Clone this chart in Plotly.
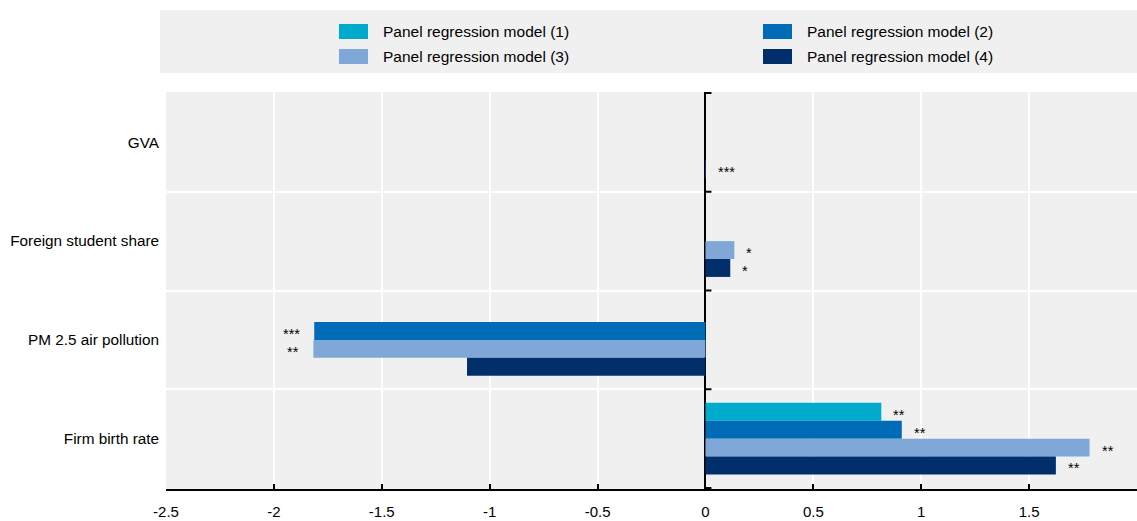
import plotly.graph_objects as go

# Explanatory variables (top to bottom)
categories = ["GVA", "Foreign student share", "PM 2.5 air pollution", "Firm birth rate"]

# Coefficients per model (None = variable not in the model)
model_1 = [None, None, None, 0.815]
model_2 = [None, None, -1.813, 0.91]
model_3 = [None, 0.134, -1.817, 1.78]
model_4 = [0.001, 0.115, -1.105, 1.624]

# Significance markers per model
stars_1 = ["", "", "", "**"]
stars_2 = ["", "", "***", "**"]
stars_3 = ["", "*", "**", "**"]
stars_4 = ["***", "*", "", "**"]

series_names = [
    "Panel regression model (1)",
    "Panel regression model (2)",
    "Panel regression model (3)",
    "Panel regression model (4)",
]
series_values = [model_1, model_2, model_3, model_4]
series_stars = [stars_1, stars_2, stars_3, stars_4]
colors = ["#00AACC", "#006BB6", "#7FA8D9", "#002F6C"]

x_ticks = [-2.5, -2, -1.5, -1, -0.5, 0, 0.5, 1, 1.5, 2]
x_tick_labels = ["-2.5", "-2", "-1.5", "-1", "-0.5", "0", "0.5", "1", "1.5", "2"]

FONT = "Liberation Sans, Arial, sans-serif"
BARGAP = 0.275

W, H = 1137, 521
M_L, M_R, M_T, M_B = 166, 0, 92, 32
PLOT_W = W - M_L - M_R
PLOT_H = H - M_T - M_B


def px_x(px):
    """Pixel column -> paper x."""
    return (px - M_L) / PLOT_W


def px_y(py):
    """Pixel row -> paper y."""
    return (H - M_B - py) / PLOT_H


fig = go.Figure()
for name, vals, col in zip(series_names, series_values, colors):
    fig.add_trace(go.Bar(
        y=categories, x=vals, name=name, orientation="h",
        marker=dict(color=col, line=dict(width=0)),
        showlegend=False,
    ))

# Significance stars next to each bar end
n = len(series_values)
bar_w = (1 - BARGAP) / n
annotations = []
for j, (vals, stars) in enumerate(zip(series_values, series_stars)):
    for i, (v, s) in enumerate(zip(vals, stars)):
        if not s or v is None:
            continue
        ypos = i + (j - (n - 1) / 2) * bar_w
        pos = v >= 0
        annotations.append(dict(
            x=v, y=ypos, xref="x", yref="y", text=s, showarrow=False,
            xanchor="left" if pos else "right", yanchor="middle",
            xshift=10 if pos else -12, yshift=-3,
            font=dict(family=FONT, size=14.5, color="#000000"),
        ))

shapes = [dict(
    type="rect", xref="paper", yref="paper",
    x0=px_x(160), x1=1.0, y0=px_y(73), y1=px_y(10),
    fillcolor="#F0F0F0", line=dict(width=0), layer="below",
)]

# Legend: two columns, two rows inside the grey band
legend_cols = [339, 763]
legend_rows = [24, 49]
for k, (name, col) in enumerate(zip(series_names, colors)):
    cx = legend_cols[k % 2]
    ry = legend_rows[k // 2]
    shapes.append(dict(
        type="rect", xref="paper", yref="paper",
        x0=px_x(cx), x1=px_x(cx + 29), y0=px_y(ry + 15), y1=px_y(ry),
        fillcolor=col, line=dict(width=0),
    ))
    annotations.append(dict(
        x=px_x(cx + 42), y=px_y(ry + 8), xref="paper", yref="paper",
        text=name, showarrow=False, xanchor="left", yanchor="middle",
        font=dict(family=FONT, size=15.5, color="#000000"),
    ))

# Small ticks on the zero line at category boundaries
for b in [-0.5, 0.5, 1.5, 2.5, 3.5]:
    shapes.append(dict(
        type="line", xref="x", yref="y", xsizemode="pixel", xanchor=0,
        x0=0, x1=6, y0=b, y1=b, line=dict(color="black", width=2),
    ))

fig.update_layout(
    width=W, height=H,
    margin=dict(l=M_L, r=M_R, t=M_T, b=M_B),
    paper_bgcolor="white", plot_bgcolor="#F0F0F0",
    barmode="group", bargap=BARGAP, bargroupgap=0,
    font=dict(family=FONT, size=15, color="#000000"),
    showlegend=False,
    xaxis=dict(
        range=[-2.5, 2], tickvals=x_ticks, ticktext=x_tick_labels,
        showgrid=True, gridcolor="white", gridwidth=2,
        zeroline=True, zerolinecolor="black", zerolinewidth=2,
        showline=True, linecolor="black", linewidth=2,
        ticks="inside", ticklen=5, tickwidth=2, tickcolor="black",
        ticklabelstandoff=8,
        tickfont=dict(family=FONT, size=15, color="#000000"),
        fixedrange=True,
    ),
    yaxis=dict(
        type="category", autorange="reversed", tickson="boundaries",
        showgrid=True, gridcolor="white", gridwidth=2,
        showline=False, ticks="", ticklabelstandoff=6,
        tickfont=dict(family=FONT, size=15.3, color="#000000"),
        fixedrange=True,
    ),
    annotations=annotations,
    shapes=shapes,
)

fig.write_html("out.html")
